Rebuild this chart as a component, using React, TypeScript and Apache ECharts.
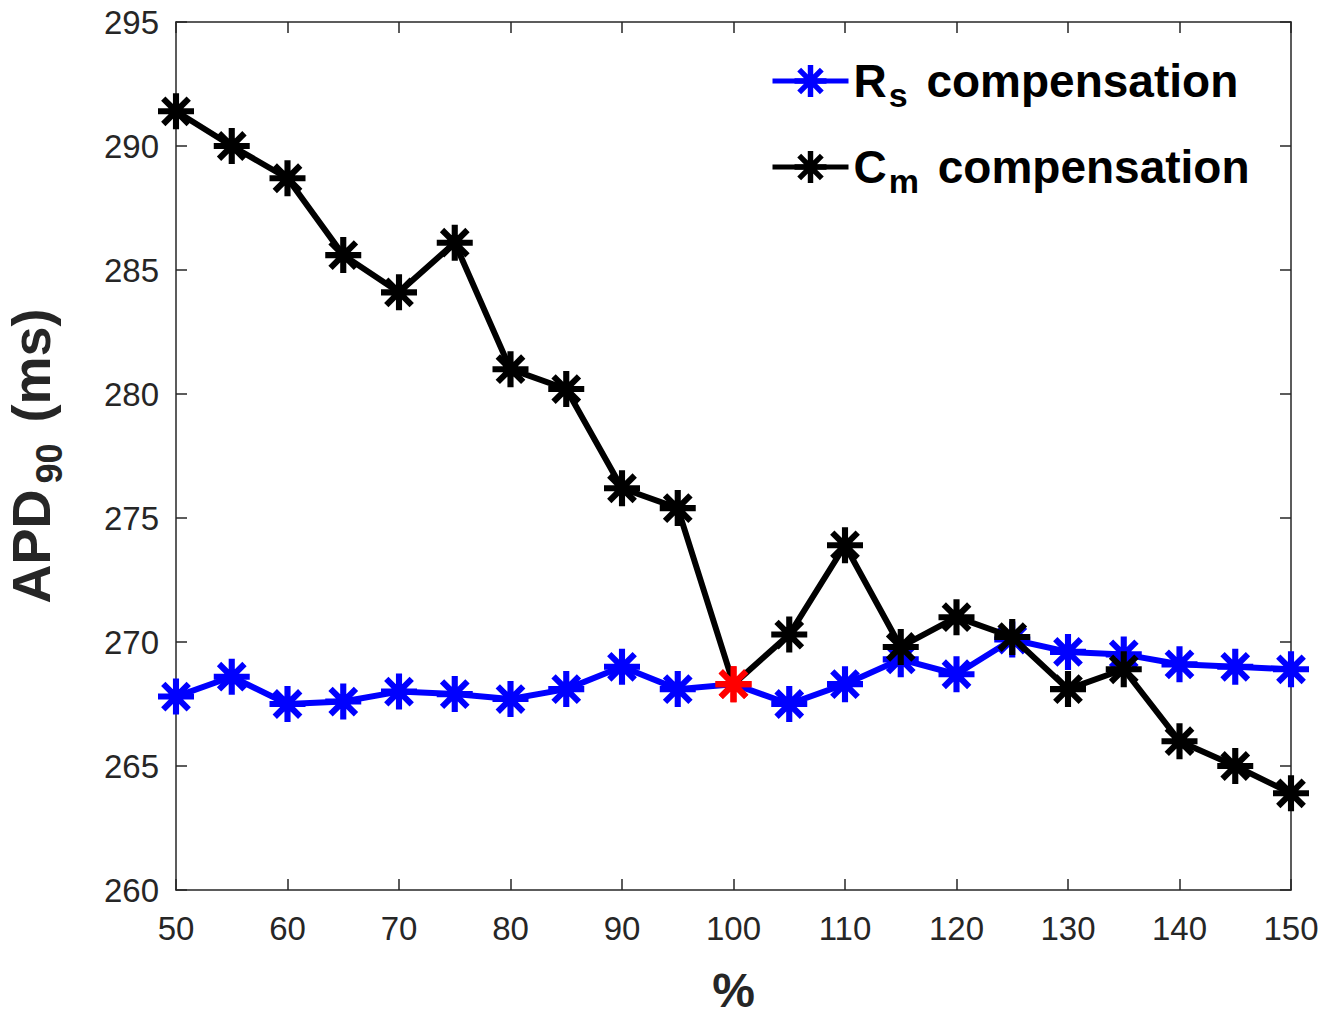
import React, { useEffect, useRef } from "react";
import * as echarts from "echarts";

const percent = [50, 55, 60, 65, 70, 75, 80, 85, 90, 95, 100, 105, 110, 115, 120, 125, 130, 135, 140, 145, 150];
const rsValues = [267.8, 268.6, 267.5, 267.6, 268.0, 267.9, 267.7, 268.1, 269.0, 268.1, 268.3, 267.5, 268.3, 269.3, 268.7, 270.1, 269.6, 269.5, 269.1, 269.0, 268.9];
const cmValues = [291.4, 290.0, 288.7, 285.6, 284.1, 286.1, 281.0, 280.2, 276.2, 275.4, 268.3, 270.3, 273.9, 269.8, 271.0, 270.2, 268.1, 268.9, 266.0, 265.0, 263.9];
const referencePercent = 100;

const star =
  "path://M-10,-1.7 L10,-1.7 L10,1.7 L-10,1.7 Z " +
  "M-1.7,-10 L1.7,-10 L1.7,10 L-1.7,10 Z " +
  "M-5.87,-8.27 L8.27,5.87 L5.87,8.27 L-8.27,-5.87 Z " +
  "M-8.27,5.87 L5.87,-8.27 L8.27,-5.87 L-5.87,8.27 Z";

const FONT = "'Liberation Sans', Arial, sans-serif";

function buildData(values: number[]) {
  return percent.map((p, i) => {
    const item: any = { value: [p, values[i]] };
    if (p === referencePercent) {
      item.itemStyle = { color: "#ff0000" };
    }
    return item;
  });
}

export default function App() {
  const ref = useRef<HTMLDivElement>(null);
  useEffect(() => {
    if (!ref.current) return;
    const chart = echarts.init(ref.current, null, { renderer: "svg" });
    const axisLine = { show: true, lineStyle: { color: "#262626", width: 1.5 } };
    const tick = { show: true, inside: true, length: 11, lineStyle: { color: "#262626", width: 1.5 } };
    chart.setOption({
      animation: false,
      backgroundColor: "#ffffff",
      grid: { left: 176, right: 48, top: 22, bottom: 127, show: false, outerBoundsMode: "none", containLabel: false },
      legend: {
        orient: "vertical",
        left: 770,
        top: 50,
        padding: 0,
        itemWidth: 76,
        itemHeight: 40,
        itemGap: 24,
        selectedMode: false,
        data: ["Rs", "Cm"],
        lineStyle: { width: 5 },
        formatter: (name: string) =>
          name === "Rs"
            ? "{a|R}{s|s}{a| compensation}"
            : "{a|C}{s|m}{a| compensation}",
        textStyle: {
          rich: {
            a: { fontFamily: FONT, fontWeight: "bold", fontSize: 46, color: "#000", lineHeight: 50 },
            s: { fontFamily: FONT, fontWeight: "bold", fontSize: 34, color: "#000", padding: [28, 6, 0, 2], lineHeight: 36 },
          },
        },
      },
      xAxis: [
        {
          type: "value",
          min: 50,
          max: 150,
          interval: 10,
          position: "bottom",
          name: "%",
          nameLocation: "middle",
          nameGap: 76,
          nameTextStyle: { fontFamily: FONT, fontWeight: "bold", fontSize: 48, color: "#262626" },
          axisLine,
          axisTick: tick,
          axisLabel: { fontFamily: FONT, fontSize: 33, color: "#262626", margin: 22 },
          splitLine: { show: false },
        },
        {
          type: "value",
          min: 50,
          max: 150,
          interval: 10,
          position: "top",
          axisLine,
          axisTick: tick,
          axisLabel: { show: false },
          splitLine: { show: false },
        },
      ],
      yAxis: [
        {
          type: "value",
          min: 260,
          max: 295,
          interval: 5,
          position: "left",
          name: "{a|APD}{s|90}{a| (ms)}",
          nameLocation: "middle",
          nameRotate: 90,
          nameGap: 116,
          nameTextStyle: {
            rich: {
              a: { fontFamily: FONT, fontWeight: "bold", fontSize: 54, color: "#262626", lineHeight: 58 },
              s: { fontFamily: FONT, fontWeight: "bold", fontSize: 36, color: "#262626", padding: [36, 6, 0, 6], lineHeight: 40 },
            },
          },
          axisLine,
          axisTick: tick,
          axisLabel: { fontFamily: FONT, fontSize: 33, color: "#262626", margin: 17 },
          splitLine: { show: false },
        },
        {
          type: "value",
          min: 260,
          max: 295,
          interval: 5,
          position: "right",
          axisLine,
          axisTick: tick,
          axisLabel: { show: false },
          splitLine: { show: false },
        },
      ],
      series: [
        {
          name: "Rs",
          type: "line",
          data: buildData(rsValues),
          symbol: star,
          symbolSize: 36,
          lineStyle: { color: "#0000ff", width: 6 },
          itemStyle: { color: "#0000ff" },
          z: 2,
        },
        {
          name: "Cm",
          type: "line",
          data: buildData(cmValues),
          symbol: star,
          symbolSize: 36,
          lineStyle: { color: "#000000", width: 6 },
          itemStyle: { color: "#000000" },
          z: 3,
        },
      ],
    });
    return () => chart.dispose();
  }, []);
  return <div ref={ref} style={{ position: "absolute", left: 0, top: 0, width: 1339, height: 1017 }} />;
}
